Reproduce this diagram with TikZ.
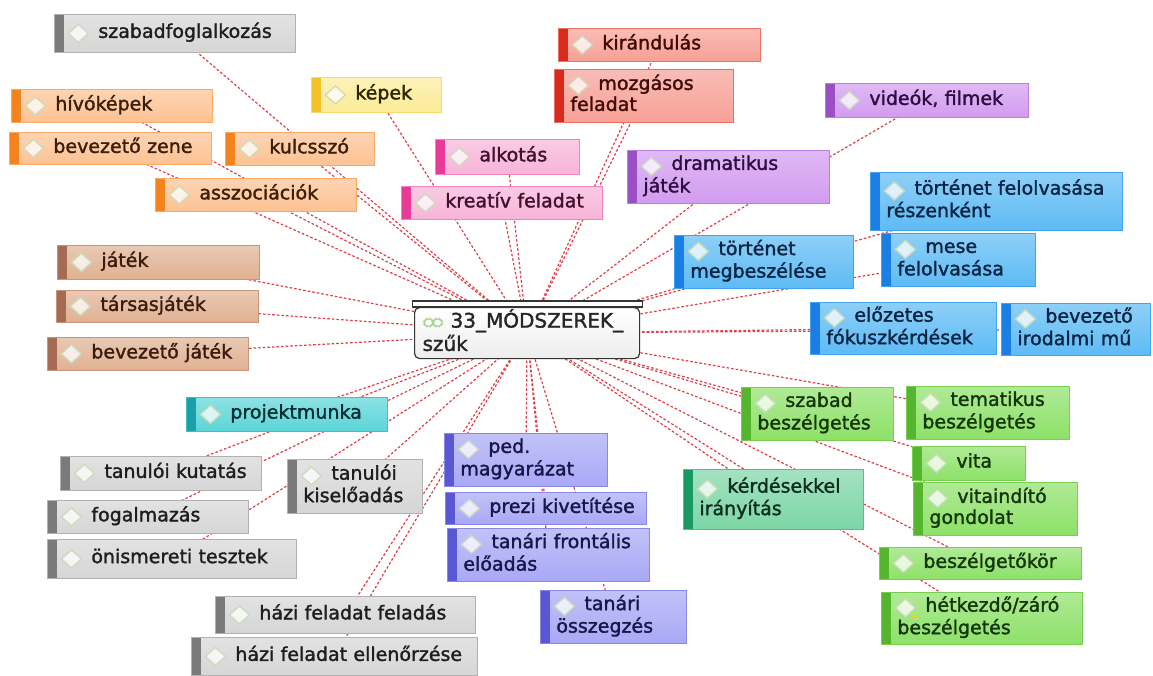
\documentclass[tikz,border=0pt]{standalone}
\usepackage{fontspec}
\setmainfont{DejaVu Sans}
\newfontfamily\boxfont{DejaVu Sans}[FakeBold=1.6]
\usetikzlibrary{backgrounds}

% box colours: fill, side strip, text
\definecolor{gFill}{HTML}{D6D6D6}\definecolor{gStrip}{HTML}{7A7A7A}\definecolor{gText}{HTML}{1E1E1E}
\definecolor{oFill}{HTML}{FDC293}\definecolor{oStrip}{HTML}{F3831D}\definecolor{oText}{HTML}{3B1F0B}
\definecolor{yFill}{HTML}{FCEB98}\definecolor{yStrip}{HTML}{F2C12C}\definecolor{yText}{HTML}{2E2600}
\definecolor{rFill}{HTML}{F7A096}\definecolor{rStrip}{HTML}{DA2A1E}\definecolor{rText}{HTML}{3E0B08}
\definecolor{pkFill}{HTML}{F8B4D8}\definecolor{pkStrip}{HTML}{E83A96}\definecolor{pkText}{HTML}{43102F}
\definecolor{puFill}{HTML}{D29BF0}\definecolor{puStrip}{HTML}{9B4FC4}\definecolor{puText}{HTML}{2E0C40}
\definecolor{bFill}{HTML}{5DBBF4}\definecolor{bStrip}{HTML}{1B7EE4}\definecolor{bText}{HTML}{0B2444}
\definecolor{grFill}{HTML}{8DE168}\definecolor{grStrip}{HTML}{55B52F}\definecolor{grText}{HTML}{14360A}
\definecolor{tFill}{HTML}{7CD6A6}\definecolor{tStrip}{HTML}{1A9963}\definecolor{tText}{HTML}{0D2E1E}
\definecolor{brFill}{HTML}{E0B192}\definecolor{brStrip}{HTML}{A66B55}\definecolor{brText}{HTML}{3A1C0E}
\definecolor{cFill}{HTML}{5BD5D8}\definecolor{cStrip}{HTML}{1AA0A6}\definecolor{cText}{HTML}{082E33}
\definecolor{lFill}{HTML}{A8A8F6}\definecolor{lStrip}{HTML}{5957D3}\definecolor{lText}{HTML}{17174A}
\definecolor{iconEdge}{HTML}{CADCBA}
\definecolor{rootIcon}{HTML}{A9D393}
\definecolor{linkRed}{HTML}{DE4048}

\tikzset{
  strip/.store in=\boxstrip, strip=black,
  iconup/.store in=\boxiconup, iconup=0pt,
  mbox/.style={anchor=north west, rectangle, inner xsep=16pt, inner ysep=0pt,
    align=left, font=\boxfont\fontsize{19}{21}\selectfont, line width=0.8pt,
    execute at begin node={\hyphenpenalty=10000\exhyphenpenalty=10000},
    path picture={
      \fill[\boxstrip] (path picture bounding box.north west)
        rectangle ([xshift=10pt]path picture bounding box.south west);
      \filldraw[fill=white, fill opacity=0.75, draw=iconEdge, line width=1.3pt]
        ([xshift=24pt,yshift=\boxiconup]path picture bounding box.west)
        +(-10pt,0) -- +(0,9pt) -- +(10pt,0) -- +(0,-9pt) -- cycle;
    }},
  two/.style={iconup=10.5pt},
  wh/.code 2 args={\pgfmathsetmacro\boxtw{#1-32}%
    \pgfkeysalso{minimum width=#1pt, minimum height=#2pt, text width=\boxtw pt}},
  fam/.style n args={3}{mbox, top color=#1!70!white, bottom color=#1,
    draw=#2!40!#1, text=#3, strip=#2},
  famGrey/.style={fam={gFill}{gStrip}{gText}},
  famOrange/.style={fam={oFill}{oStrip}{oText}},
  famYellow/.style={fam={yFill}{yStrip}{yText}},
  famRed/.style={fam={rFill}{rStrip}{rText}},
  famPink/.style={fam={pkFill}{pkStrip}{pkText}},
  famPurple/.style={fam={puFill}{puStrip}{puText}},
  famBlue/.style={fam={bFill}{bStrip}{bText}},
  famGreen/.style={fam={grFill}{grStrip}{grText}},
  famTeal/.style={fam={tFill}{tStrip}{tText}},
  famBrown/.style={fam={brFill}{brStrip}{brText}},
  famCyan/.style={fam={cFill}{cStrip}{cText}},
  famLav/.style={fam={lFill}{lStrip}{lText}},
  rootbox/.style={anchor=north west, rectangle, rounded corners=5pt,
    draw=black!80, line width=1.2pt, top color=white, bottom color=black!7,
    minimum width=225pt, minimum height=51pt, text width=209pt,
    inner xsep=8pt, inner ysep=0pt, align=left, text=black!85,
    font=\boxfont\fontsize{20}{21}\selectfont,
    path picture={
      \foreach \dx in {14pt,23pt}
        \filldraw[fill=white, draw=rootIcon, line width=1.2pt]
          ([xshift=\dx,yshift=10.5pt]path picture bounding box.west)
          +(-6.5pt,0) -- +(0,5.5pt) -- +(6.5pt,0) -- +(0,-5.5pt) -- cycle;
    }},
  rootcap/.style={rectangle, draw=black!80, line width=1.2pt, fill=white,
    minimum width=230pt, minimum height=6pt, inner sep=0pt},
  conn/.style={draw=linkRed, line width=1.2pt, dash pattern=on 2.6pt off 2pt},
}

\begin{document}
\begin{tikzpicture}[x=1pt, y=-1pt]
\useasboundingbox (0,0) rectangle (1153,675);

% central topic
\node[rootbox] (root) at (414,307) {\strut\hspace*{28pt}33\_MÓDSZEREK\_\\\strut szűk};
\node[rootcap, anchor=south] (roothead) at ([yshift=-0.6pt]root.north) {};

% upper left
\node[famGrey, wh={241}{38}] (szab) at (54,14) {\strut\hspace*{28pt}szabadfoglalkozás};
\node[famOrange, wh={201}{33}] (hivo) at (11,89) {\strut\hspace*{28pt}hívóképek};
\node[famOrange, wh={202}{32}] (bzene) at (9,132) {\strut\hspace*{28pt}bevezető~zene};
\node[famOrange, wh={149}{33}] (kulcs) at (225,132) {\strut\hspace*{28pt}kulcsszó};
\node[famOrange, wh={201}{33}] (asszoc) at (155,178) {\strut\hspace*{28pt}asszociációk};
\node[famYellow, wh={130}{35}] (kepek) at (311,77) {\strut\hspace*{28pt}képek};

% top
\node[famRed, wh={202}{33}] (kirand) at (558,28) {\strut\hspace*{28pt}kirándulás};
\node[famRed, two, wh={179}{53}] (mozg) at (554,69) {\strut\hspace*{28pt}mozgásos\\\strut feladat};
\node[famPink, wh={144}{35}] (alkot) at (435,139) {\strut\hspace*{28pt}alkotás};
\node[famPink, wh={201}{33}] (kreat) at (401,186) {\strut\hspace*{28pt}kreatív~feladat};
\node[famPurple, two, wh={202}{53}] (dram) at (627,150) {\strut\hspace*{28pt}dramatikus\\\strut játék};
\node[famPurple, wh={203}{34}] (video) at (825,83) {\strut\hspace*{28pt}videók,~filmek};

% right, blue
\node[famBlue, two, wh={252}{58}] (tfr) at (870,172) {\strut\hspace*{28pt}történet~felolvasása\\\strut részenként};
\node[famBlue, two, wh={179}{53}] (tmeg) at (674,235) {\strut\hspace*{28pt}történet\\\strut megbeszélése};
\node[famBlue, two, wh={154}{53}] (mese) at (881,233) {\strut\hspace*{28pt}mese\\\strut felolvasása};
\node[famBlue, two, wh={186}{52}] (elozet) at (810,302) {\strut\hspace*{28pt}előzetes\\\strut fókuszkérdések};
\node[famBlue, two, wh={149}{52}] (birod) at (1001,303) {\strut\hspace*{28pt}bevezető\\\strut irodalmi~mű};

% right, green
\node[famGreen, two, wh={152}{53}] (szbesz) at (741,387) {\strut\hspace*{28pt}szabad\\\strut beszélgetés};
\node[famGreen, two, wh={163}{53}] (tbesz) at (906,386) {\strut\hspace*{28pt}tematikus\\\strut beszélgetés};
\node[famGreen, wh={113}{34}] (vita) at (912,446) {\strut\hspace*{28pt}vita};
\node[famGreen, two, wh={164}{53}] (vitaind) at (913,482) {\strut\hspace*{28pt}vitaindító\\\strut gondolat};
\node[famGreen, wh={202}{32}] (bkor) at (879,547) {\strut\hspace*{28pt}beszélgetőkör};
\node[famGreen, two, wh={201}{52}] (hetk) at (881,592) {\strut\hspace*{28pt}hétkezdő/záró\\\strut beszélgetés};
\node[famTeal, two, wh={180}{60}] (kerd) at (683,469) {\strut\hspace*{28pt}kérdésekkel\\\strut irányítás};

% left
\node[famBrown, wh={202}{34}] (jatek) at (57,245) {\strut\hspace*{28pt}játék};
\node[famBrown, wh={202}{32}] (tarsas) at (56,290) {\strut\hspace*{28pt}társasjáték};
\node[famBrown, wh={201}{33}] (bjatek) at (47,337) {\strut\hspace*{28pt}bevezető~játék};

% lower left
\node[famCyan, wh={201}{34}] (projekt) at (186,397) {\strut\hspace*{28pt}projektmunka};
\node[famGrey, wh={201}{34}] (kutat) at (60,456) {\strut\hspace*{28pt}tanulói~kutatás};
\node[famGrey, wh={201}{33}] (fogalm) at (47,500) {\strut\hspace*{28pt}fogalmazás};
\node[famGrey, wh={249}{39}] (onism) at (47,539) {\strut\hspace*{28pt}önismereti~tesztek};
\node[famGrey, two, wh={135}{54}] (kisel) at (287,459) {\strut\hspace*{28pt}tanulói\\\strut kiselőadás};
\node[famGrey, wh={260}{37}] (hfel) at (215,596) {\strut\hspace*{28pt}házi~feladat~feladás};
\node[famGrey, wh={286}{38}] (hell) at (191,637) {\strut\hspace*{28pt}házi~feladat~ellenőrzése};

% lower middle
\node[famLav, two, wh={163}{53}] (ped) at (444,433) {\strut\hspace*{28pt}ped.\\\strut magyarázat};
\node[famLav, wh={201}{32}] (prezi) at (445,492) {\strut\hspace*{28pt}prezi~kivetítése};
\node[famLav, two, wh={202}{53}] (tfront) at (447,528) {\strut\hspace*{28pt}tanári~frontális\\\strut előadás};
\node[famLav, two, wh={146}{53}] (tossz) at (540,590) {\strut\hspace*{28pt}tanári\\\strut összegzés};

% note marker on the icon of the last green topic
\draw[yellow!70!orange, line width=0.8pt] (912,616) -- (918,616) (912,619) -- (918,619);

% white page and the dotted links, behind the boxes
\begin{pgfonlayer}{background}
  \fill[white] (0,0) rectangle (1153,675);
  \foreach \n in {szab,hivo,bzene,kulcs,asszoc,kepek,kirand,mozg,alkot,kreat,
                  dram,video,tfr,tmeg,mese,elozet,birod,szbesz,tbesz,vita,
                  vitaind,bkor,hetk,kerd,jatek,tarsas,bjatek,projekt,kutat,
                  fogalm,onism,kisel,hfel,hell,ped,prezi,tfront,tossz}
    \draw[conn] (root.center) -- (\n.center);
\end{pgfonlayer}
\end{tikzpicture}
\end{document}
